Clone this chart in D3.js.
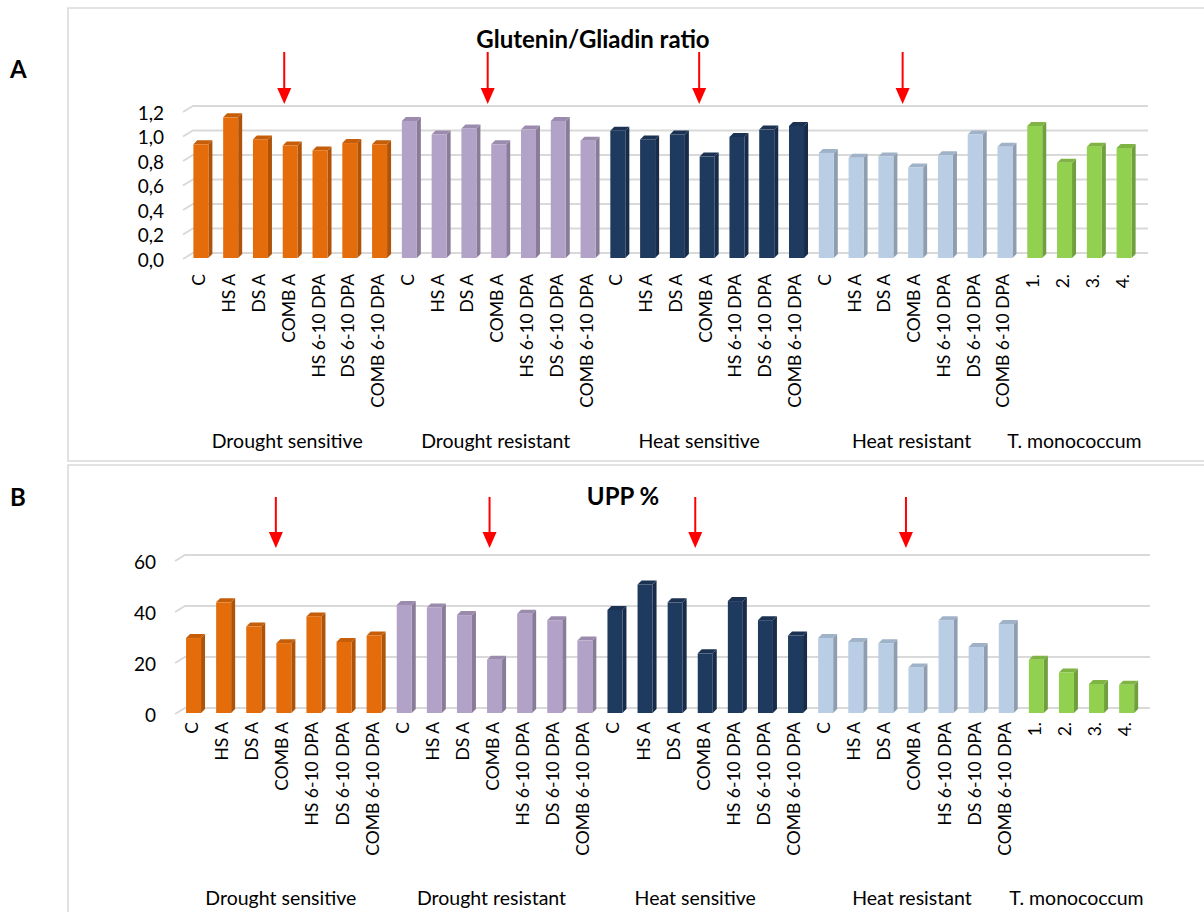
<!DOCTYPE html>
<html><head><meta charset="utf-8">
<script src="https://cdn.jsdelivr.net/npm/d3@7"></script>
<style>body{margin:0;background:#fff}svg{display:block}text{font-family:Lato,"Open Sans",sans-serif}</style>
</head><body><svg id="c" width="1204" height="912"></svg>
<script>
const treatments = ["C","HS A","DS A","COMB A","HS 6-10 DPA","DS 6-10 DPA","COMB 6-10 DPA"];
const monoLabels = ["1.","2.","3.","4."];
const groups = ["Drought sensitive","Drought resistant","Heat sensitive","Heat resistant","T. monococcum"];
const groupSizes = [7,7,7,7,4];
const groupColors = ["#E46C0A","#B3A2C7","#1F3A5F","#B9CDE5","#92D050"];
const ratioValues = [0.92,1.14,0.96,0.91,0.87,0.93,0.92, 1.11,1.00,1.05,0.92,1.04,1.11,0.95, 1.03,0.96,1.00,0.82,0.98,1.04,1.07, 0.85,0.81,0.82,0.73,0.83,1.00,0.90, 1.07,0.77,0.90,0.89];
const uppValues = [29,43,33.5,27,37.5,27.5,30, 42,41,38,20.5,38.5,36,28, 40,50,43,23,43.5,36,30, 29,27.5,27,17.5,36,25.5,34.5, 20.5,15.5,11,10.7];
const ratioTicks = [0,0.2,0.4,0.6,0.8,1.0,1.2];
const uppTicks = [0,20,40,60];
const arrowAfter = ["COMB A"]; // arrows mark COMB A of each of the first four groups

const categories = [];
groups.forEach((g,gi)=>{
  const labs = gi<4 ? treatments : monoLabels;
  labs.forEach(l=>categories.push({group:g, gi, label:l, id:g+"|"+l}));
});

const svg = d3.select("#c");
const grey = "#d9d9d9";

svg.append("rect").attr("x",68).attr("y",8).attr("width",1200).attr("height",453).attr("fill","none").attr("stroke",grey).attr("stroke-width",1.5);
svg.append("rect").attr("x",68).attr("y",465).attr("width",1200).attr("height",460).attr("fill","none").attr("stroke",grey).attr("stroke-width",1.5);
svg.append("text").attr("x",10).attr("y",78).attr("font-size",24).attr("font-weight","bold").text("A");
svg.append("text").attr("x",10).attr("y",506).attr("font-size",24).attr("font-weight","bold").text("B");

function shade(c,k){return d3.color(c).darker(k).formatHex();}

function drawChart(cfg){
  const g = svg.append("g");
  const x = d3.scaleBand().domain(categories.map(d=>d.id)).range(cfg.xr);
  const y = d3.scaleLinear().domain(cfg.domain).range(cfg.yr);
  const ddx = 10, ddy = 6;
  const bdx = 4, bdy = 4;
  const bw = 15;
  const gx0 = cfg.gridX0, gx1 = cfg.gridX1;
  cfg.ticks.forEach(t=>{
    const yy = y(t);
    g.append("path").attr("d",`M${gx0},${yy+ddy}L${gx0+ddx},${yy}L${gx1},${yy}`)
      .attr("fill","none").attr("stroke","#d9d9d9").attr("stroke-width",2);
  });
  const yAxis = d3.axisLeft(d3.scaleLinear().domain(cfg.domain).range(cfg.yr.map(v=>v+cfg.labOff)))
     .tickValues(cfg.ticks).tickFormat(cfg.fmt).tickSize(0).tickPadding(0);
  const ya = g.append("g").attr("transform",`translate(${cfg.labX},0)`).call(yAxis);
  ya.select(".domain").remove();
  ya.selectAll("text").attr("font-size",cfg.tickFont).attr("fill","#000").attr("font-family","Lato,'Open Sans',sans-serif");
  const floorY = y(0)+bdy+1;
  categories.forEach((c,i)=>{
    const v = cfg.values[i];
    const cx = x(c.id)+x.bandwidth()/2;
    const x0 = cx - bw/2 - bdx/2;
    const topF = y(v)+bdy;
    const col = groupColors[c.gi];
    g.append("path").attr("d",`M${x0+bw},${topF}L${x0+bw+bdx},${topF-bdy}L${x0+bw+bdx},${floorY-bdy}L${x0+bw},${floorY}Z`).attr("fill",shade(col,0.75));
    g.append("path").attr("d",`M${x0},${topF}L${x0+bdx},${topF-bdy}L${x0+bw+bdx},${topF-bdy}L${x0+bw},${topF}Z`).attr("fill",shade(col,0.4));
    g.append("rect").attr("x",x0).attr("y",topF).attr("width",bw).attr("height",floorY-topF).attr("fill",col);
  });
  categories.forEach(c=>{
    const cx = x(c.id)+x.bandwidth()/2 + cfg.catDx;
    g.append("text").attr("transform",`translate(${cx},${cfg.catY}) rotate(-90)`)
      .attr("text-anchor","end").attr("dominant-baseline","central").attr("font-size",cfg.catFont).text(c.label);
  });
  let idx=0;
  groups.forEach((gr,gi)=>{
    const first = categories[idx].id, last = categories[idx+groupSizes[gi]-1].id;
    idx += groupSizes[gi];
    const mid = (x(first)+x(last)+x.bandwidth())/2 + cfg.groupDx[gi];
    g.append("text").attr("x",mid).attr("y",cfg.groupY).attr("text-anchor","middle").attr("font-size",cfg.groupFont).text(gr);
  });
  g.append("text").attr("x",cfg.titleX).attr("y",cfg.titleY).attr("text-anchor","middle").attr("font-size",cfg.titleFont).attr("font-weight","bold").text(cfg.title);
  categories.filter(c=>c.gi<4 && arrowAfter.includes(c.label)).forEach((c,k)=>{
    const ax = x(c.id)+x.bandwidth()/2 + cfg.arrowDx[k];
    const a0 = cfg.arrowY[0], a1 = cfg.arrowY[1];
    g.append("line").attr("x1",ax).attr("x2",ax).attr("y1",a0).attr("y2",a1-14).attr("stroke","#ff0000").attr("stroke-width",2);
    g.append("path").attr("d",`M${ax-7},${a1-16}L${ax+7},${a1-16}L${ax},${a1}Z`).attr("fill","#ff0000");
  });
}

drawChart({
  values: ratioValues, ticks: ratioTicks, domain:[0,1.2], yr:[253,106],
  xr:[188,1141], gridX0:183, gridX1:1148, labX:164, labOff:7, fmt:d=>d3.format(".1f")(d).replace(".",","),
  tickFont:19, catFont:17.5, catY:274, catDx:-4, groupY:448, groupFont:19.5, groupDx:[-5,-5,-10,-6,-7],
  title:"Glutenin/Gliadin ratio", titleX:593, titleY:48, titleFont:24,
  arrowY:[52,104], arrowDx:[-8,-13,-10,-15]
});
drawChart({
  values: uppValues, ticks: uppTicks, domain:[0,60], yr:[708,555],
  xr:[180.5,1143.7], gridX0:175, gridX1:1150, labX:156, labOff:7, fmt:d3.format("d"),
  tickFont:19, catFont:17.5, catY:722, catDx:-4, groupY:905, groupFont:19.5, groupDx:[-5,-5,-12,-6,-7],
  title:"UPP %", titleX:623, titleY:505, titleFont:24,
  arrowY:[497,548], arrowDx:[-10,-7,-12,-12]
});
</script></body></html>
